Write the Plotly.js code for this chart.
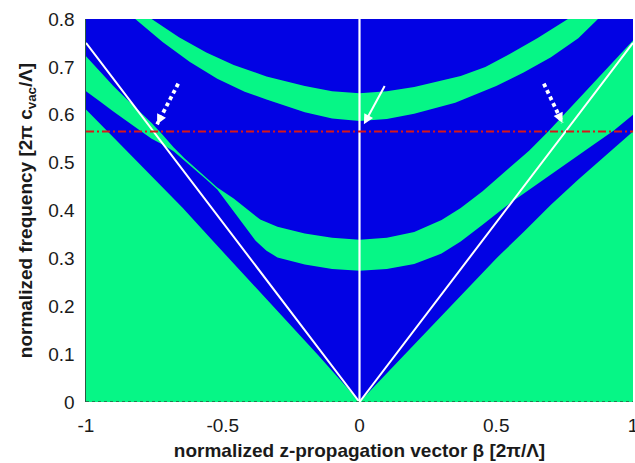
<!DOCTYPE html>
<html>
<head>
<meta charset="utf-8">
<script src="https://cdn.plot.ly/plotly-3.0.1.min.js"></script>
<style>html,body{margin:0;padding:0;background:#fff;}#chart{width:635px;height:463px;}</style>
</head>
<body>
<div id="chart"></div>
<script>
// ---- data (β in 2π/Λ, frequency in 2πc/Λ) ----
// lower green region (below the lower boundary curve)
const lowerLeftBeta  = [-1, -0.9, -0.8, -0.7, -0.646, -0.55, -0.45, -0.35, -0.25, -0.15, -0.05, 0];
const lowerLeftFreq  = [0.611, 0.553, 0.495, 0.437, 0.405, 0.345, 0.283, 0.222, 0.16, 0.097, 0.033, 0];
const lowerRightBeta = [0, 0.1, 0.2, 0.35, 0.5, 0.6, 0.7, 0.8, 0.9, 1.0];
const lowerRightFreq = [0, 0.06, 0.12, 0.21, 0.30, 0.355, 0.412, 0.465, 0.515, 0.565];

// lower band (U-shaped band plus its left branch that thins out along the light line)
const bandCUpperBeta = [-1, -0.95, -0.9, -0.85, -0.8, -0.76, -0.72, -0.68, -0.64, -0.6, -0.56, -0.52, -0.46, -0.4, -0.363, -0.3, -0.2, -0.1, 0, 0.1, 0.2, 0.3, 0.37, 0.45, 0.55, 0.62, 0.69, 0.8, 0.9, 1.0];
const bandCUpperFreq = [0.722, 0.69, 0.66, 0.632, 0.605, 0.583, 0.558, 0.532, 0.509, 0.488, 0.467, 0.448, 0.425, 0.397, 0.381, 0.366, 0.352, 0.343, 0.339, 0.343, 0.355, 0.38, 0.405, 0.44, 0.49, 0.525, 0.565, 0.632, 0.695, 0.755];
const bandCLowerBeta = [-1, -0.95, -0.9, -0.85, -0.8, -0.76, -0.72, -0.68, -0.64, -0.6, -0.56, -0.52, -0.46, -0.42, -0.38, -0.34, -0.3, -0.2, -0.1, 0, 0.1, 0.2, 0.3, 0.37, 0.45, 0.55, 0.65, 0.75, 0.85, 0.93, 1.0];
const bandCLowerFreq = [0.649, 0.628, 0.607, 0.586, 0.566, 0.55, 0.538, 0.524, 0.505, 0.484, 0.465, 0.444, 0.398, 0.367, 0.337, 0.316, 0.302, 0.287, 0.278, 0.274, 0.278, 0.288, 0.31, 0.335, 0.37, 0.415, 0.455, 0.495, 0.535, 0.567, 0.600];

// upper U-shaped band
const bandBUpperBeta = [-0.76, -0.66, -0.56, -0.46, -0.34, -0.2, -0.1, 0, 0.1, 0.2, 0.37, 0.46, 0.546, 0.65, 0.762];
const bandBUpperFreq = [0.8, 0.762, 0.73, 0.704, 0.68, 0.66, 0.649, 0.645, 0.649, 0.658, 0.681, 0.70, 0.726, 0.76, 0.8];
const bandBLowerBeta = [-0.82, -0.72, -0.62, -0.52, -0.42, -0.34, -0.2, -0.1, 0, 0.1, 0.2, 0.35, 0.5, 0.6, 0.7, 0.8, 0.872];
const bandBLowerFreq = [0.8, 0.752, 0.71, 0.675, 0.648, 0.632, 0.605, 0.592, 0.587, 0.591, 0.602, 0.625, 0.66, 0.688, 0.72, 0.76, 0.8];

// light lines and the β = 0 line
const lightLineBeta = [-1, 0, 1];
const lightLineFreq = [0.75, 0, 0.75];
const centerLineBeta = [0, 0];
const centerLineFreq = [0, 0.8];

// operating frequency (red dash-dot)
const operatingFreq = 0.565;

// arrows: tail and tip, dotted or solid
const arrowTailBeta = [-0.663, 0.095, 0.674];
const arrowTailFreq = [0.665, 0.663, 0.665];
const arrowTipBeta  = [-0.74, 0.016, 0.742];
const arrowTipFreq  = [0.58, 0.58, 0.583];
const arrowDotted   = [true, false, true];
const arrowHeadDirPx = [[4.5, -9], [4.9, -9], [-4.3, -9]];

// axis ticks
const xTickVals = [-1, -0.5, 0, 0.5, 1];
const xTickText = ['-1', '-0.5', '0', '0.5', '1'];
const yTickVals = [0, 0.1, 0.2, 0.3, 0.4, 0.5, 0.6, 0.7, 0.8];
const yTickText = ['0', '0.1', '0.2', '0.3', '0.4', '0.5', '0.6', '0.7', '0.8'];

// ---- styling ----
const BLUE = '#0202e4';
const GREEN = '#06f686';
const FONT = 'Liberation Sans, Arial, Helvetica, sans-serif';

function polygon(xs, ys) {
  return {x: xs, y: ys, type: 'scatter', mode: 'lines', fill: 'toself',
          fillcolor: GREEN, line: {width: 0, color: GREEN}, hoverinfo: 'skip'};
}

const traces = [];
traces.push(polygon(
  [-1].concat(lowerLeftBeta, lowerRightBeta, [1]),
  [0].concat(lowerLeftFreq, lowerRightFreq, [0])
));
traces.push(polygon(
  bandCUpperBeta.concat(bandCLowerBeta.slice().reverse()),
  bandCUpperFreq.concat(bandCLowerFreq.slice().reverse())
));
traces.push(polygon(
  bandBUpperBeta.concat(bandBLowerBeta.slice().reverse()),
  bandBUpperFreq.concat(bandBLowerFreq.slice().reverse())
));
traces.push({x: lightLineBeta, y: lightLineFreq, type: 'scatter', mode: 'lines',
  line: {color: '#ffffff', width: 2}, hoverinfo: 'skip'});
traces.push({x: centerLineBeta, y: centerLineFreq, type: 'scatter', mode: 'lines',
  line: {color: '#ffffff', width: 2.2}, hoverinfo: 'skip'});
traces.push({x: [-1, 1], y: [operatingFreq, operatingFreq], type: 'scatter', mode: 'lines',
  line: {color: '#d81818', width: 2.2, dash: '8px,3px,2px,3px'}, hoverinfo: 'skip'});
for (let i = 0; i < arrowTailBeta.length; i++) {
  if (arrowDotted[i]) {
    traces.push({x: [arrowTailBeta[i], arrowTipBeta[i]], y: [arrowTailFreq[i], arrowTipFreq[i]],
      type: 'scatter', mode: 'lines', line: {color: '#ffffff', width: 3.8, dash: '3.8px,3.4px'},
      hoverinfo: 'skip'});
  }
}

const annotations = [];
for (let i = 0; i < arrowTailBeta.length; i++) {
  if (arrowDotted[i]) {
    annotations.push({x: arrowTipBeta[i], y: arrowTipFreq[i], xref: 'x', yref: 'y',
      ax: arrowHeadDirPx[i][0], ay: arrowHeadDirPx[i][1], text: '', showarrow: true,
      arrowhead: 2, arrowsize: 0.9, arrowwidth: 2.2, arrowcolor: '#ffffff', standoff: 0});
  } else {
    annotations.push({x: arrowTipBeta[i], y: arrowTipFreq[i], xref: 'x', yref: 'y',
      axref: 'x', ayref: 'y', ax: arrowTailBeta[i], ay: arrowTailFreq[i], text: '', showarrow: true,
      arrowhead: 2, arrowsize: 1, arrowwidth: 2, arrowcolor: '#ffffff', standoff: 0});
  }
}

const layout = {
  width: 635, height: 463,
  margin: {l: 86, r: 2, t: 19, b: 61, pad: 0},
  paper_bgcolor: '#ffffff',
  plot_bgcolor: BLUE,
  showlegend: false,
  font: {family: FONT, color: '#1a1a1a'},
  xaxis: {
    range: [-1, 1], tickvals: xTickVals, ticktext: xTickText,
    ticks: 'outside', ticklen: 6, tickcolor: 'rgba(0,0,0,0)',
    ticklabeloverflow: 'allow',
    tickfont: {family: FONT, size: 19, color: '#1a1a1a'},
    showgrid: false, zeroline: false, showline: false, fixedrange: true,
    title: {text: 'normalized z-propagation vector β [2π/Λ]', standoff: 8,
            font: {family: FONT, size: 19, weight: 'bold', color: '#1a1a1a'}}
  },
  yaxis: {
    range: [0, 0.8], tickvals: yTickVals, ticktext: yTickText,
    ticks: 'outside', ticklen: 6, tickcolor: 'rgba(0,0,0,0)',
    ticklabeloverflow: 'allow',
    tickfont: {family: FONT, size: 19, color: '#1a1a1a'},
    showgrid: false, zeroline: false, showline: true, linecolor: '#2b5a42', linewidth: 1.5,
    fixedrange: true,
    title: {text: 'normalized frequency [2π c<sub>vac</sub>/Λ]', standoff: 10,
            font: {family: FONT, size: 19, weight: 'bold', color: '#1a1a1a'}}
  },
  shapes: [
    {type: 'line', xref: 'paper', yref: 'y', x0: 0, x1: 1, y0: 0, y1: 0,
     line: {color: '#2b5a42', width: 1.5, dash: 'dot'}}
  ],
  annotations: annotations
};

Plotly.newPlot('chart', traces, layout, {displayModeBar: false, staticPlot: true});
</script>
</body>
</html>
